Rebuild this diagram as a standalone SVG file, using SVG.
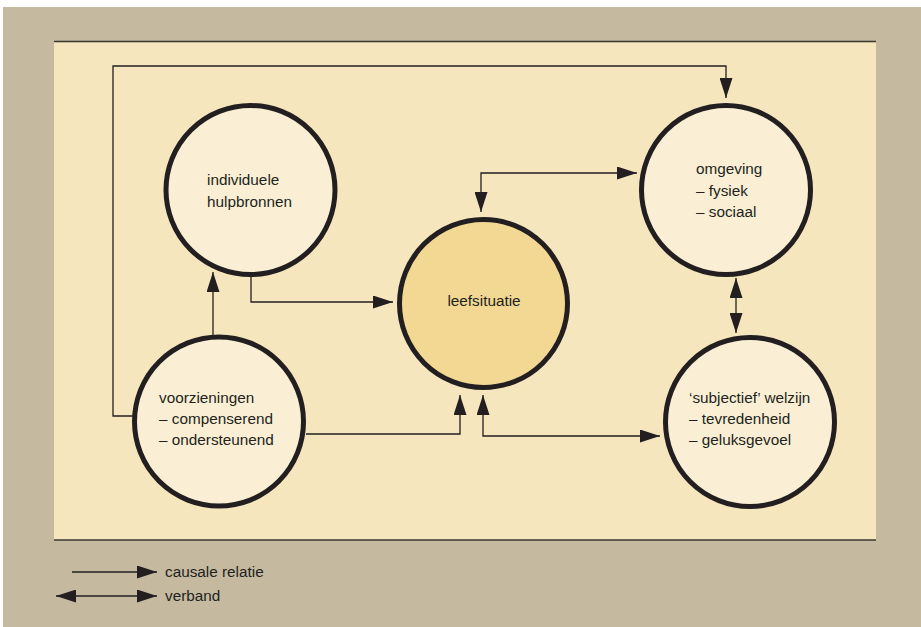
<svg xmlns="http://www.w3.org/2000/svg" width="921" height="627" viewBox="0 0 921 627">
<style>
.node{fill:#FAEFD4;stroke:#231F20;stroke-width:5}
.main{fill:#F2D893}
.lbl{font-family:"Liberation Sans",Arial,sans-serif;font-size:15.3px;fill:#231F20}
.con{fill:none;stroke:#231F20;stroke-width:1.3}
</style>
<defs>
<marker id="ah" markerUnits="userSpaceOnUse" markerWidth="20" markerHeight="13" refX="20" refY="6.5" orient="auto-start-reverse">
<path d="M0,0 L20,6.5 L0,13 z" fill="#231F20"/>
</marker>
</defs>
<rect x="0" y="0" width="921" height="627" fill="#FFFFFF"/>
<rect x="3" y="7" width="918" height="620" fill="#C5BA9F"/>
<rect x="54" y="41" width="822" height="499" fill="#F6E6BE"/>
<line x1="54" y1="41.5" x2="876" y2="41.5" stroke="#3A3633" stroke-width="1.5"/>
<line x1="54" y1="540" x2="876" y2="540" stroke="#3A3633" stroke-width="1.5"/>

<g id="connectors">
<path class="con" d="M133,416 H113 V66 H726 V98" marker-end="url(#ah)"/>
<path class="con" d="M213,335 V272" marker-end="url(#ah)"/>
<path class="con" d="M251,277 V302 H393" marker-end="url(#ah)"/>
<path class="con" d="M306,434 H460 V395" marker-end="url(#ah)"/>
<path class="con" d="M483,395 V436 H660" marker-start="url(#ah)" marker-end="url(#ah)"/>
<path class="con" d="M481,212 V173 H637" marker-start="url(#ah)" marker-end="url(#ah)"/>
<path class="con" d="M736,278 V333" marker-start="url(#ah)" marker-end="url(#ah)"/>
</g>

<g id="hulpbronnen">
<circle class="node" cx="250.5" cy="190" r="84.5"/>
<text class="lbl" x="207" y="185">individuele</text>
<text class="lbl" x="207" y="207">hulpbronnen</text>
</g>
<g id="voorzieningen">
<circle class="node" cx="219" cy="421.5" r="84.5"/>
<text class="lbl" x="159" y="403">voorzieningen</text>
<text class="lbl" x="159" y="424">– compenserend</text>
<text class="lbl" x="159" y="445">– ondersteunend</text>
</g>
<g id="leefsituatie">
<circle class="node main" cx="483.5" cy="303.5" r="84"/>
<text class="lbl" x="484" y="306" text-anchor="middle">leefsituatie</text>
</g>
<g id="omgeving">
<circle class="node" cx="726" cy="190" r="84.5"/>
<text class="lbl" x="696" y="174">omgeving</text>
<text class="lbl" x="696" y="196">– fysiek</text>
<text class="lbl" x="696" y="217">– sociaal</text>
</g>
<g id="welzijn">
<circle class="node" cx="750" cy="422" r="84.5"/>
<text class="lbl" x="689" y="403">‘subjectief’ welzijn</text>
<text class="lbl" x="689" y="424">– tevredenheid</text>
<text class="lbl" x="689" y="445">– geluksgevoel</text>
</g>

<g id="legend">
<path class="con" d="M72,572 H157" marker-end="url(#ah)"/>
<path class="con" d="M56,596 H157" marker-start="url(#ah)" marker-end="url(#ah)"/>
<text class="lbl" x="165" y="577">causale relatie</text>
<text class="lbl" x="165" y="601">verband</text>
</g>
</svg>
